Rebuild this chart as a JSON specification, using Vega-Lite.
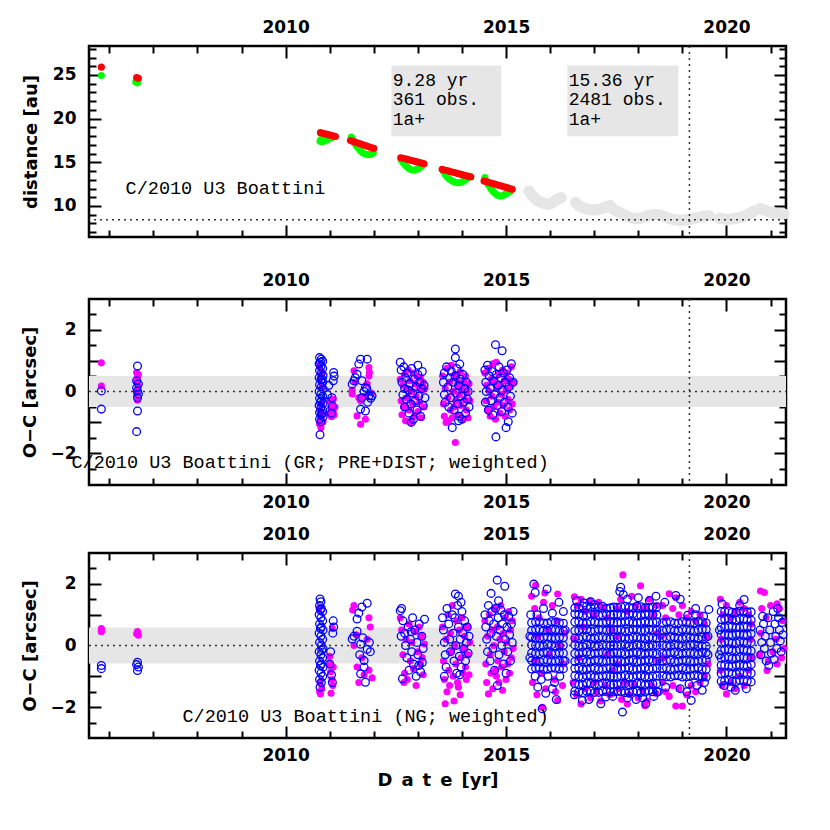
{
"$schema":"https://vega.github.io/schema/vega-lite/v6.json",
"background":"white",
"padding":{"left":20,"top":16,"right":5,"bottom":5},
"config":{
 "view":{"stroke":"black","strokeWidth":2.5},
 "axis":{"domain":false,"grid":false,"tickColor":"black","tickWidth":2,"labelFont":"DejaVu Sans","labelFontWeight":"bold","labelFontSize":17,"labelColor":"black","titleFont":"DejaVu Sans","titleFontWeight":"bold","titleFontSize":18,"titleColor":"black","zindex":1,"labelOverlap":false,"labelFlush":false}
},
"datasets":{
"red":[{"t":2005.82,"v":25.9},{"t":2006.62,"v":24.72},{"t":2006.66,"v":24.62},
{"t":2010.79,"v":18.4},{"t":2010.84,"v":18.33},{"t":2010.89,"v":18.27},{"t":2010.94,"v":18.2},{"t":2010.99,"v":18.14},{"t":2011.04,"v":18.07},{"t":2011.09,"v":18.0},{"t":2011.13,"v":17.95},
{"t":2011.47,"v":17.5},{"t":2011.52,"v":17.42},{"t":2011.57,"v":17.33},{"t":2011.62,"v":17.25},{"t":2011.67,"v":17.16},{"t":2011.72,"v":17.08},{"t":2011.77,"v":16.99},{"t":2011.82,"v":16.9},{"t":2011.87,"v":16.82},{"t":2011.92,"v":16.73},{"t":2011.97,"v":16.65},{"t":2012.0,"v":16.6},
{"t":2012.61,"v":15.53},{"t":2012.66,"v":15.47},{"t":2012.71,"v":15.4},{"t":2012.76,"v":15.34},{"t":2012.81,"v":15.27},{"t":2012.86,"v":15.21},{"t":2012.91,"v":15.14},{"t":2012.96,"v":15.08},{"t":2013.01,"v":15.01},{"t":2013.06,"v":14.95},{"t":2013.1,"v":14.89},{"t":2013.14,"v":14.84},
{"t":2013.55,"v":14.2},{"t":2013.6,"v":14.13},{"t":2013.65,"v":14.07},{"t":2013.7,"v":14.0},{"t":2013.75,"v":13.93},{"t":2013.8,"v":13.86},{"t":2013.85,"v":13.8},{"t":2013.9,"v":13.73},{"t":2013.95,"v":13.66},{"t":2014.0,"v":13.59},{"t":2014.05,"v":13.52},{"t":2014.1,"v":13.45},{"t":2014.15,"v":13.39},{"t":2014.2,"v":13.32},
{"t":2014.5,"v":12.86},{"t":2014.55,"v":12.79},{"t":2014.6,"v":12.72},{"t":2014.65,"v":12.64},{"t":2014.7,"v":12.57},{"t":2014.75,"v":12.5},{"t":2014.8,"v":12.42},{"t":2014.85,"v":12.35},{"t":2014.9,"v":12.28},{"t":2014.95,"v":12.2},{"t":2015.0,"v":12.13},{"t":2015.05,"v":12.06},{"t":2015.1,"v":11.98},{"t":2015.14,"v":11.91}],
"green":[{"t":2005.82,"v":24.95},{"t":2006.6,"v":24.2},{"t":2006.64,"v":24.1},
{"t":2010.78,"v":17.4},{"t":2010.8,"v":17.6},{"t":2010.82,"v":17.35},{"t":2010.86,"v":17.4},{"t":2010.9,"v":17.5},{"t":2010.95,"v":17.6},{"t":2011.0,"v":17.75},{"t":2011.05,"v":17.85},{"t":2011.1,"v":17.95},
{"t":2011.49,"v":17.9},{"t":2011.52,"v":17.6},{"t":2011.56,"v":17.2},{"t":2011.6,"v":16.9},{"t":2011.65,"v":16.6},{"t":2011.7,"v":16.3},{"t":2011.75,"v":16.1},{"t":2011.8,"v":15.95},{"t":2011.85,"v":15.9},{"t":2011.9,"v":15.9},{"t":2011.95,"v":15.95},{"t":2011.99,"v":16.1},
{"t":2012.62,"v":15.3},{"t":2012.66,"v":15.0},{"t":2012.7,"v":14.75},{"t":2012.75,"v":14.5},{"t":2012.8,"v":14.3},{"t":2012.85,"v":14.15},{"t":2012.9,"v":14.1},{"t":2012.95,"v":14.15},{"t":2013.0,"v":14.25},{"t":2013.05,"v":14.45},{"t":2013.1,"v":14.65},
{"t":2013.58,"v":13.95},{"t":2013.62,"v":13.6},{"t":2013.67,"v":13.3},{"t":2013.72,"v":13.05},{"t":2013.78,"v":12.85},{"t":2013.84,"v":12.72},{"t":2013.9,"v":12.67},{"t":2013.96,"v":12.68},{"t":2014.02,"v":12.8},{"t":2014.08,"v":13.0},{"t":2014.14,"v":13.25},{"t":2014.18,"v":13.4},
{"t":2014.52,"v":13.25},{"t":2014.56,"v":12.8},{"t":2014.6,"v":12.4},{"t":2014.65,"v":12.0},{"t":2014.7,"v":11.7},{"t":2014.75,"v":11.45},{"t":2014.8,"v":11.25},{"t":2014.85,"v":11.15},{"t":2014.9,"v":11.15},{"t":2014.95,"v":11.25},{"t":2015.0,"v":11.4},{"t":2015.05,"v":11.55},{"t":2015.1,"v":11.7}],
"grey":[{"t":2015.52,"v":11.7},{"t":2015.57,"v":11.35},{"t":2015.62,"v":11.05},{"t":2015.67,"v":10.8},{"t":2015.72,"v":10.6},{"t":2015.78,"v":10.45},{"t":2015.84,"v":10.35},{"t":2015.9,"v":10.25},{"t":2015.96,"v":10.2},{"t":2016.02,"v":10.3},{"t":2016.08,"v":10.5},{"t":2016.14,"v":10.7},{"t":2016.2,"v":10.85},{"t":2016.25,"v":10.95},
{"t":2016.58,"v":10.4},{"t":2016.64,"v":10.1},{"t":2016.7,"v":9.9},{"t":2016.76,"v":9.78},{"t":2016.82,"v":9.68},{"t":2016.88,"v":9.6},{"t":2016.94,"v":9.57},{"t":2017.0,"v":9.55},{"t":2017.06,"v":9.57},{"t":2017.12,"v":9.62},{"t":2017.18,"v":9.72},{"t":2017.24,"v":9.82},{"t":2017.3,"v":9.95},{"t":2017.36,"v":10.05},
{"t":2017.44,"v":9.6},{"t":2017.5,"v":9.45},{"t":2017.56,"v":9.3},{"t":2017.62,"v":9.15},{"t":2017.68,"v":9.0},{"t":2017.74,"v":8.85},{"t":2017.8,"v":8.7},{"t":2017.86,"v":8.62},{"t":2017.92,"v":8.56},{"t":2017.98,"v":8.55},{"t":2018.04,"v":8.6},{"t":2018.1,"v":8.68},{"t":2018.16,"v":8.78},{"t":2018.22,"v":8.88},{"t":2018.28,"v":8.95},{"t":2018.34,"v":9.0},{"t":2018.4,"v":9.02},{"t":2018.46,"v":9.0},{"t":2018.52,"v":8.92},{"t":2018.58,"v":8.82},{"t":2018.64,"v":8.7},{"t":2018.7,"v":8.58},{"t":2018.76,"v":8.5},{"t":2018.82,"v":8.44},{"t":2018.88,"v":8.4},{"t":2018.94,"v":8.38},{"t":2019.0,"v":8.38},{"t":2019.06,"v":8.4},{"t":2019.12,"v":8.45},{"t":2019.18,"v":8.5},{"t":2019.24,"v":8.56},{"t":2019.3,"v":8.62},{"t":2019.36,"v":8.68},{"t":2019.42,"v":8.74},{"t":2019.48,"v":8.8},{"t":2019.54,"v":8.85},{"t":2019.6,"v":8.9},
{"t":2019.84,"v":8.6},{"t":2019.9,"v":8.55},{"t":2019.96,"v":8.5},{"t":2020.02,"v":8.5},{"t":2020.08,"v":8.5},{"t":2020.14,"v":8.53},{"t":2020.2,"v":8.57},{"t":2020.26,"v":8.62},{"t":2020.32,"v":8.7},{"t":2020.38,"v":8.8},{"t":2020.44,"v":8.92},{"t":2020.5,"v":9.05},{"t":2020.56,"v":9.2},{"t":2020.62,"v":9.4},
{"t":2020.76,"v":9.7},{"t":2020.82,"v":9.58},{"t":2020.88,"v":9.48},{"t":2020.94,"v":9.38},{"t":2021.0,"v":9.3},{"t":2021.06,"v":9.24},{"t":2021.12,"v":9.18},{"t":2021.18,"v":9.14},{"t":2021.24,"v":9.1},{"t":2021.3,"v":9.1}],
"box":[{"x0":2012.4,"x1":2014.89,"y0":18.0,"y1":26.1},{"x0":2016.39,"x1":2018.91,"y0":18.0,"y1":26.1}],
"boxtext":[{"t":2012.43,"v":24.35,"s":"9.28 yr"},{"t":2012.43,"v":22.1,"s":"361 obs."},{"t":2012.43,"v":19.85,"s":"1a+"},{"t":2016.42,"v":24.35,"s":"15.36 yr"},{"t":2016.42,"v":22.1,"s":"2481 obs."},{"t":2016.42,"v":19.85,"s":"1a+"}],
"ann1":[{"t":2006.37,"v":12.06,"s":"C/2010 U3 Boattini"}],
"ann2":[{"t":2015.97,"v":-2.3,"s":"C/2010 U3 Boattini (GR; PRE+DIST; weighted)"}],
"ann3":[{"t":2015.97,"v":-2.29,"s":"C/2010 U3 Boattini (NG; weighted)"}],
"hline1":[{"v":8.43}],
"vline":[{"t":2019.16}],
"zero":[{"x0":2005.54,"x1":2021.35,"v":0}],
"band2":[{"x0":2005.54,"x1":2021.35,"lo":-0.5,"hi":0.5}],
"band3":[{"x0":2005.54,"x1":2021.35,"lo":-0.58,"hi":0.58}],
"mm":[{"t":2005.82,"v":0.93},{"t":2005.82,"v":0.18},
{"t":2006.62,"v":0.62},{"t":2006.64,"v":0.48},{"t":2006.62,"v":0.32},{"t":2006.66,"v":0.18},{"t":2006.64,"v":0.05},{"t":2006.62,"v":-0.1},{"t":2006.64,"v":-0.28},{"t":2006.66,"v":0.55},
{"t":2010.77,"v":0.8},{"t":2010.79,"v":0.45},{"t":2010.77,"v":-0.6},{"t":2010.79,"v":-0.9},{"t":2010.77,"v":-1.05},{"t":2010.8,"v":-1.17},{"t":2010.82,"v":0.6},{"t":2010.84,"v":0.15},{"t":2010.81,"v":-0.4},{"t":2010.83,"v":-0.78},{"t":2010.85,"v":-0.98},{"t":2011.0,"v":-0.3},{"t":2011.02,"v":-0.52},{"t":2011.0,"v":-0.72},{"t":2011.06,"v":-0.4},{"t":2011.08,"v":-0.62},{"t":2011.04,"v":-0.82},{"t":2011.1,"v":-0.75},{"t":2011.12,"v":-0.5},{"t":2011.08,"v":-0.25},
{"t":2011.55,"v":0.67},{"t":2011.89,"v":0.78},{"t":2011.89,"v":0.5},{"t":2011.51,"v":-0.08},{"t":2011.51,"v":0.05},{"t":2011.66,"v":-0.2},{"t":2011.62,"v":-0.79},{"t":2011.81,"v":-0.9},{"t":2011.7,"v":-1.06},{"t":2011.85,"v":0.25},{"t":2011.7,"v":-0.3},{"t":2011.9,"v":0.62},{"t":2011.8,"v":-0.15},{"t":2011.58,"v":0.3},{"t":2011.95,"v":-0.05},
{"t":2012.6,"v":0.4},{"t":2012.62,"v":-0.3},{"t":2012.64,"v":-0.75},{"t":2012.66,"v":0.2},{"t":2012.68,"v":-0.5},{"t":2012.7,"v":0.55},{"t":2012.72,"v":-0.95},{"t":2012.74,"v":0.1},{"t":2012.76,"v":-0.2},{"t":2012.78,"v":0.7},{"t":2012.8,"v":-0.6},{"t":2012.82,"v":0.35},{"t":2012.84,"v":-1.0},{"t":2012.86,"v":0.0},{"t":2012.88,"v":-0.4},{"t":2012.9,"v":0.6},{"t":2012.92,"v":-0.8},{"t":2012.94,"v":0.25},{"t":2012.96,"v":-0.15},{"t":2012.98,"v":0.5},{"t":2013.0,"v":-0.65},{"t":2013.02,"v":0.15},{"t":2013.04,"v":-0.35},{"t":2013.06,"v":0.45},{"t":2013.08,"v":-0.85},{"t":2013.1,"v":0.05},{"t":2013.12,"v":0.3},{"t":2013.14,"v":-0.5},{"t":2013.16,"v":0.1},
{"t":2013.56,"v":0.5},{"t":2013.58,"v":-0.4},{"t":2013.6,"v":-0.8},{"t":2013.62,"v":0.1},{"t":2013.64,"v":-1.0},{"t":2013.66,"v":0.75},{"t":2013.68,"v":-0.2},{"t":2013.7,"v":-0.95},{"t":2013.72,"v":0.3},{"t":2013.74,"v":-0.6},{"t":2013.76,"v":0.85},{"t":2013.78,"v":-0.85},{"t":2013.8,"v":0.0},{"t":2013.82,"v":-0.5},{"t":2013.84,"v":0.55},{"t":2013.85,"v":-1.65},{"t":2013.86,"v":-0.3},{"t":2013.88,"v":0.4},{"t":2013.9,"v":-0.75},{"t":2013.92,"v":0.2},{"t":2013.94,"v":-0.1},{"t":2013.96,"v":0.65},{"t":2013.98,"v":-0.45},{"t":2014.0,"v":0.1},{"t":2014.02,"v":-0.9},{"t":2014.04,"v":0.35},{"t":2014.06,"v":-0.25},{"t":2014.08,"v":0.5},{"t":2014.1,"v":-0.6},{"t":2014.12,"v":0.0},{"t":2014.14,"v":-0.85},{"t":2014.16,"v":0.25},{"t":2014.18,"v":-0.3},
{"t":2014.52,"v":0.6},{"t":2014.54,"v":-0.3},{"t":2014.56,"v":0.2},{"t":2014.58,"v":-0.6},{"t":2014.6,"v":0.75},{"t":2014.62,"v":0.0},{"t":2014.64,"v":-0.8},{"t":2014.66,"v":0.4},{"t":2014.68,"v":-0.15},{"t":2014.7,"v":0.9},{"t":2014.72,"v":-0.5},{"t":2014.74,"v":0.3},{"t":2014.76,"v":-0.9},{"t":2014.78,"v":0.95},{"t":2014.8,"v":0.1},{"t":2014.82,"v":-0.35},{"t":2014.84,"v":0.55},{"t":2014.86,"v":-0.7},{"t":2014.88,"v":0.2},{"t":2014.9,"v":-0.1},{"t":2014.92,"v":0.7},{"t":2014.94,"v":-0.45},{"t":2014.96,"v":0.35},{"t":2014.98,"v":-0.8},{"t":2015.0,"v":0.05},{"t":2015.02,"v":0.6},{"t":2015.04,"v":-0.25},{"t":2015.06,"v":0.4},{"t":2015.08,"v":-0.6},{"t":2015.1,"v":0.15},{"t":2015.12,"v":0.8},{"t":2015.14,"v":-0.4},{"t":2015.16,"v":0.3}],
"mb":[{"t":2005.82,"v":0.02},{"t":2005.82,"v":-0.57},
{"t":2006.64,"v":0.83},{"t":2006.62,"v":0.35},{"t":2006.66,"v":0.25},{"t":2006.62,"v":0.12},{"t":2006.64,"v":0.02},{"t":2006.66,"v":-0.08},{"t":2006.64,"v":-0.2},{"t":2006.64,"v":-0.63},{"t":2006.62,"v":-1.3},
{"t":2010.77,"v":1.1},{"t":2010.81,"v":1.05},{"t":2010.84,"v":0.98},{"t":2010.76,"v":0.9},{"t":2010.8,"v":0.82},{"t":2010.84,"v":0.75},{"t":2010.77,"v":0.68},{"t":2010.81,"v":0.6},{"t":2010.85,"v":0.52},{"t":2010.76,"v":0.45},{"t":2010.8,"v":0.38},{"t":2010.84,"v":0.3},{"t":2010.77,"v":0.22},{"t":2010.81,"v":0.15},{"t":2010.85,"v":0.08},{"t":2010.76,"v":0.0},{"t":2010.8,"v":-0.08},{"t":2010.84,"v":-0.15},{"t":2010.77,"v":-0.22},{"t":2010.81,"v":-0.3},{"t":2010.85,"v":-0.38},{"t":2010.76,"v":-0.45},{"t":2010.8,"v":-0.52},{"t":2010.84,"v":-0.6},{"t":2010.77,"v":-0.68},{"t":2010.81,"v":-0.75},{"t":2010.85,"v":-0.82},{"t":2010.77,"v":-0.9},{"t":2010.8,"v":-0.98},{"t":2010.78,"v":-1.4},{"t":2010.79,"v":0.95},{"t":2010.83,"v":0.4},{"t":2010.79,"v":-0.35},{"t":2010.83,"v":-0.7},
{"t":2011.09,"v":0.62},{"t":2011.1,"v":0.5},{"t":2011.08,"v":0.35},{"t":2011.05,"v":-0.2},{"t":2011.06,"v":-0.48},{"t":2011.04,"v":-0.7},{"t":2010.98,"v":0.2},{"t":2010.95,"v":-0.1},
{"t":2011.66,"v":0.89},{"t":2011.85,"v":1.05},{"t":2011.7,"v":1.05},{"t":2011.51,"v":0.24},{"t":2011.55,"v":0.35},{"t":2011.73,"v":0.35},{"t":2011.81,"v":0.13},{"t":2011.89,"v":-0.14},{"t":2011.96,"v":-0.14},{"t":2011.7,"v":-0.57},{"t":2011.81,"v":-0.63},{"t":2011.73,"v":-0.2},{"t":2011.62,"v":0.56},{"t":2011.58,"v":0.45},{"t":2011.93,"v":-0.22},{"t":2011.78,"v":0.0},{"t":2011.86,"v":-0.35},{"t":2011.84,"v":0.1},
{"t":2012.6,"v":0.95},{"t":2012.62,"v":0.7},{"t":2012.64,"v":0.3},{"t":2012.66,"v":-0.1},{"t":2012.68,"v":0.8},{"t":2012.7,"v":-0.5},{"t":2012.72,"v":0.45},{"t":2012.74,"v":-0.25},{"t":2012.76,"v":0.6},{"t":2012.78,"v":0.05},{"t":2012.8,"v":-0.7},{"t":2012.82,"v":0.25},{"t":2012.84,"v":-0.4},{"t":2012.86,"v":0.75},{"t":2012.88,"v":-0.05},{"t":2012.9,"v":-0.9},{"t":2012.92,"v":0.4},{"t":2012.94,"v":-0.3},{"t":2012.96,"v":0.15},{"t":2012.98,"v":-0.6},{"t":2013.0,"v":0.55},{"t":2013.02,"v":-0.15},{"t":2013.04,"v":0.3},{"t":2013.06,"v":-0.8},{"t":2013.08,"v":0.1},{"t":2013.1,"v":0.65},{"t":2013.12,"v":-0.45},{"t":2013.14,"v":0.2},{"t":2013.16,"v":-0.2},{"t":2012.85,"v":-1.0},{"t":2012.7,"v":0.1},{"t":2013.0,"v":0.85},
{"t":2013.85,"v":1.38},{"t":2013.85,"v":1.1},{"t":2013.95,"v":0.89},{"t":2013.6,"v":0.6},{"t":2013.58,"v":0.3},{"t":2013.6,"v":-0.1},{"t":2013.62,"v":-0.35},{"t":2013.65,"v":0.8},{"t":2013.68,"v":0.15},{"t":2013.7,"v":-0.5},{"t":2013.72,"v":0.45},{"t":2013.74,"v":-0.2},{"t":2013.76,"v":0.65},{"t":2013.78,"v":-1.17},{"t":2013.8,"v":0.3},{"t":2013.82,"v":-0.6},{"t":2013.84,"v":0.5},{"t":2013.86,"v":-0.05},{"t":2013.88,"v":0.75},{"t":2013.9,"v":-0.4},{"t":2013.92,"v":0.2},{"t":2013.94,"v":-0.8},{"t":2013.96,"v":0.4},{"t":2013.98,"v":-0.15},{"t":2014.0,"v":-0.9},{"t":2014.02,"v":0.55},{"t":2014.04,"v":-0.35},{"t":2014.06,"v":0.1},{"t":2014.08,"v":-0.7},{"t":2014.1,"v":0.3},{"t":2014.12,"v":-0.25},{"t":2014.14,"v":0.0},{"t":2014.16,"v":-0.5},{"t":2013.92,"v":-0.95},
{"t":2014.76,"v":1.52},{"t":2014.91,"v":1.32},{"t":2014.52,"v":0.7},{"t":2014.54,"v":0.3},{"t":2014.55,"v":0.0},{"t":2014.53,"v":-0.35},{"t":2014.58,"v":0.85},{"t":2014.6,"v":-0.6},{"t":2014.62,"v":0.5},{"t":2014.64,"v":0.1},{"t":2014.66,"v":-0.3},{"t":2014.68,"v":0.65},{"t":2014.7,"v":-0.75},{"t":2014.72,"v":0.35},{"t":2014.74,"v":-0.1},{"t":2014.77,"v":-1.47},{"t":2014.78,"v":0.55},{"t":2014.8,"v":-0.45},{"t":2014.82,"v":0.2},{"t":2014.84,"v":0.8},{"t":2014.86,"v":-0.2},{"t":2014.88,"v":0.45},{"t":2014.9,"v":-0.65},{"t":2014.92,"v":0.05},{"t":2014.94,"v":0.6},{"t":2014.96,"v":-0.35},{"t":2014.98,"v":0.3},{"t":2015.0,"v":-1.17},{"t":2015.02,"v":0.7},{"t":2015.04,"v":-0.5},{"t":2015.05,"v":-0.98},{"t":2015.06,"v":0.15},{"t":2015.08,"v":0.45},{"t":2015.1,"v":-0.15},{"t":2015.12,"v":0.9},{"t":2015.14,"v":-0.7},{"t":2015.16,"v":0.3}],
"bm":[{"t":2005.82,"v":0.55},{"t":2005.82,"v":0.49},{"t":2005.82,"v":0.45},{"t":2006.64,"v":0.45},{"t":2006.62,"v":0.38},{"t":2006.66,"v":0.33},
{"t":2010.77,"v":-1.5},{"t":2010.79,"v":-1.57},{"t":2010.82,"v":-1.4},{"t":2010.76,"v":1.2},{"t":2010.78,"v":-1.2},{"t":2011.0,"v":-0.6},{"t":2011.02,"v":-0.85},{"t":2011.05,"v":-1.1},{"t":2011.07,"v":-1.3},{"t":2011.03,"v":-1.55},{"t":2011.08,"v":-0.7},{"t":2011.0,"v":-0.35},{"t":2011.06,"v":0.55},
{"t":2011.55,"v":1.3},{"t":2011.89,"v":0.9},{"t":2011.55,"v":0.0},{"t":2011.85,"v":0.2},{"t":2011.73,"v":-0.4},{"t":2011.62,"v":-0.7},{"t":2011.89,"v":-0.8},{"t":2011.96,"v":-1.05},{"t":2011.66,"v":-1.2},{"t":2011.52,"v":1.15},{"t":2011.92,"v":0.6},{"t":2011.78,"v":-0.95},{"t":2011.6,"v":0.35},
{"t":2012.6,"v":0.9},{"t":2012.63,"v":0.5},{"t":2012.66,"v":-0.3},{"t":2012.7,"v":-0.9},{"t":2012.73,"v":0.2},{"t":2012.76,"v":-1.1},{"t":2012.8,"v":0.7},{"t":2012.83,"v":-0.5},{"t":2012.86,"v":0.1},{"t":2012.9,"v":-0.75},{"t":2012.93,"v":0.45},{"t":2012.96,"v":-1.3},{"t":2013.0,"v":-0.2},{"t":2013.03,"v":0.6},{"t":2013.06,"v":-0.6},{"t":2013.09,"v":0.3},{"t":2013.12,"v":-0.95},{"t":2013.15,"v":0.05},{"t":2012.68,"v":-1.2},{"t":2013.1,"v":-0.4},
{"t":2013.56,"v":0.6},{"t":2013.58,"v":-0.5},{"t":2013.6,"v":-1.1},{"t":2013.62,"v":-1.89},{"t":2013.64,"v":0.2},{"t":2013.66,"v":-1.5},{"t":2013.68,"v":1.0},{"t":2013.7,"v":-0.8},{"t":2013.72,"v":-1.3},{"t":2013.74,"v":0.4},{"t":2013.76,"v":-0.2},{"t":2013.78,"v":1.3},{"t":2013.8,"v":-1.0},{"t":2013.82,"v":-1.8},{"t":2013.84,"v":0.0},{"t":2013.86,"v":-0.6},{"t":2013.88,"v":0.8},{"t":2013.9,"v":-1.2},{"t":2013.92,"v":-1.35},{"t":2013.94,"v":0.5},{"t":2013.96,"v":-1.6},{"t":2013.98,"v":-0.4},{"t":2014.0,"v":0.9},{"t":2014.02,"v":-0.9},{"t":2014.04,"v":-0.1},{"t":2014.06,"v":0.3},{"t":2014.08,"v":-0.7},{"t":2014.1,"v":-1.1},{"t":2014.12,"v":0.6},{"t":2014.14,"v":-0.3},{"t":2014.16,"v":-0.95},{"t":2014.18,"v":0.1},
{"t":2014.52,"v":0.8},{"t":2014.54,"v":-0.6},{"t":2014.56,"v":-1.2},{"t":2014.58,"v":0.3},{"t":2014.6,"v":-1.57},{"t":2014.62,"v":1.0},{"t":2014.64,"v":-0.3},{"t":2014.66,"v":-0.9},{"t":2014.68,"v":0.5},{"t":2014.7,"v":-1.4},{"t":2014.72,"v":0.0},{"t":2014.74,"v":1.2},{"t":2014.76,"v":-0.8},{"t":2014.78,"v":-1.0},{"t":2014.8,"v":0.6},{"t":2014.82,"v":-0.5},{"t":2014.84,"v":-1.2},{"t":2014.86,"v":0.2},{"t":2014.88,"v":1.3},{"t":2014.9,"v":-0.7},{"t":2014.92,"v":-1.45},{"t":2014.94,"v":0.4},{"t":2014.96,"v":-0.2},{"t":2014.98,"v":0.9},{"t":2015.0,"v":-1.1},{"t":2015.02,"v":0.1},{"t":2015.04,"v":-0.6},{"t":2015.06,"v":1.1},{"t":2015.08,"v":-0.9},{"t":2015.1,"v":0.5},{"t":2015.12,"v":-0.4},{"t":2015.14,"v":0.8},{"t":2015.16,"v":-0.1},
{"t":2015.58,"v":1.6},{"t":2015.67,"v":1.95},{"t":2015.6,"v":-1.2},{"t":2015.65,"v":1.2},{"t":2015.7,"v":-1.6},{"t":2015.75,"v":0.9},{"t":2015.8,"v":-0.9},{"t":2015.85,"v":1.4},{"t":2015.9,"v":-1.4},{"t":2015.95,"v":0.5},{"t":2015.82,"v":-2.0},{"t":2016.05,"v":1.3},{"t":2016.1,"v":-1.1},{"t":2016.15,"v":0.8},{"t":2016.17,"v":-1.78},{"t":2016.17,"v":1.67},{"t":2016.3,"v":-0.6},{"t":2016.33,"v":0.4},{"t":2015.72,"v":0.3},{"t":2015.98,"v":-0.3},{"t":2016.22,"v":0.0},{"t":2015.66,"v":-0.5},{"t":2016.12,"v":-1.5},{"t":2015.88,"v":1.7},{"t":2016.28,"v":-1.3},
{"t":2016.55,"v":1.58},{"t":2016.62,"v":1.3},{"t":2016.7,"v":1.5},{"t":2016.8,"v":1.1},{"t":2016.9,"v":1.45},{"t":2017.0,"v":1.0},{"t":2017.1,"v":1.4},{"t":2017.2,"v":1.25},{"t":2017.3,"v":0.9},{"t":2016.52,"v":-1.2},{"t":2016.6,"v":-1.6},{"t":2016.7,"v":-1.9},{"t":2016.8,"v":-1.4},{"t":2016.92,"v":-1.7},{"t":2017.05,"v":-1.5},{"t":2017.15,"v":-1.8},{"t":2017.25,"v":-1.3},{"t":2017.35,"v":-1.6},{"t":2017.42,"v":-0.8},{"t":2016.55,"v":0.2},{"t":2017.4,"v":0.5},{"t":2016.65,"v":-0.4},{"t":2017.3,"v":-0.3},{"t":2017.0,"v":-1.2},{"t":2016.75,"v":0.6},
{"t":2017.52,"v":1.2},{"t":2017.6,"v":1.5},{"t":2017.65,"v":2.29},{"t":2017.75,"v":1.1},{"t":2017.85,"v":1.6},{"t":2017.95,"v":1.3},{"t":2018.05,"v":1.94},{"t":2018.15,"v":1.2},{"t":2018.25,"v":1.5},{"t":2018.35,"v":1.0},{"t":2018.42,"v":1.3},{"t":2017.55,"v":-1.4},{"t":2017.62,"v":-1.75},{"t":2017.7,"v":-1.2},{"t":2017.8,"v":-1.6},{"t":2017.9,"v":-1.3},{"t":2018.0,"v":-1.7},{"t":2018.1,"v":-1.45},{"t":2018.2,"v":-1.8},{"t":2018.3,"v":-1.3},{"t":2018.4,"v":-1.55},{"t":2017.52,"v":0.3},{"t":2018.44,"v":-0.5},{"t":2017.53,"v":-0.6},{"t":2018.43,"v":0.4},{"t":2017.75,"v":-1.9},{"t":2018.15,"v":-1.95},
{"t":2018.55,"v":1.3},{"t":2018.62,"v":0.9},{"t":2018.7,"v":1.68},{"t":2018.78,"v":1.2},{"t":2018.85,"v":1.55},{"t":2018.92,"v":1.0},{"t":2019.0,"v":1.3},{"t":2019.1,"v":0.9},{"t":2019.2,"v":1.1},{"t":2019.3,"v":0.8},{"t":2019.4,"v":1.0},{"t":2019.5,"v":0.7},{"t":2018.55,"v":-1.2},{"t":2018.62,"v":-1.5},{"t":2018.7,"v":-1.65},{"t":2018.78,"v":-1.3},{"t":2018.85,"v":-1.96},{"t":2018.92,"v":-1.4},{"t":2019.0,"v":-1.96},{"t":2019.1,"v":-1.6},{"t":2019.2,"v":-1.3},{"t":2019.3,"v":-1.5},{"t":2019.4,"v":-1.2},{"t":2019.5,"v":-1.0},{"t":2019.58,"v":-0.6},{"t":2018.52,"v":0.3},{"t":2018.58,"v":-0.4},{"t":2019.55,"v":0.3},
{"t":2019.86,"v":1.5},{"t":2019.92,"v":1.0},{"t":2020.0,"v":1.3},{"t":2020.1,"v":0.9},{"t":2020.2,"v":1.1},{"t":2020.3,"v":1.4},{"t":2020.4,"v":1.2},{"t":2020.5,"v":1.0},{"t":2020.56,"v":0.7},{"t":2019.86,"v":-0.8},{"t":2019.9,"v":-1.3},{"t":2020.0,"v":-1.57},{"t":2020.1,"v":-1.2},{"t":2020.2,"v":-1.4},{"t":2020.3,"v":-1.0},{"t":2020.4,"v":-1.3},{"t":2020.5,"v":-0.8},{"t":2020.56,"v":-0.4},{"t":2019.88,"v":0.2},{"t":2020.55,"v":0.2},
{"t":2020.77,"v":1.77},{"t":2020.86,"v":1.72},{"t":2020.8,"v":1.2},{"t":2020.9,"v":0.9},{"t":2021.0,"v":1.3},{"t":2021.15,"v":1.35},{"t":2021.2,"v":1.2},{"t":2021.28,"v":0.8},{"t":2020.75,"v":-0.3},{"t":2020.92,"v":-0.81},{"t":2020.95,"v":-0.5},{"t":2021.05,"v":-0.2},{"t":2021.15,"v":-0.6},{"t":2021.25,"v":-0.4},{"t":2021.3,"v":-0.1},{"t":2020.78,"v":0.4},{"t":2021.12,"v":0.2}],
"bb":[{"t":2005.82,"v":-0.65},{"t":2005.82,"v":-0.75},{"t":2006.64,"v":-0.54},{"t":2006.62,"v":-0.62},{"t":2006.66,"v":-0.7},{"t":2006.64,"v":-0.81},
{"t":2010.78,"v":1.51},{"t":2010.8,"v":1.42},{"t":2010.77,"v":1.3},{"t":2010.81,"v":1.2},{"t":2010.84,"v":1.1},{"t":2010.76,"v":1.0},{"t":2010.8,"v":0.9},{"t":2010.84,"v":0.8},{"t":2010.77,"v":0.7},{"t":2010.81,"v":0.6},{"t":2010.85,"v":0.5},{"t":2010.76,"v":0.4},{"t":2010.8,"v":0.3},{"t":2010.84,"v":0.2},{"t":2010.77,"v":0.1},{"t":2010.81,"v":0.0},{"t":2010.85,"v":-0.1},{"t":2010.76,"v":-0.2},{"t":2010.8,"v":-0.3},{"t":2010.84,"v":-0.4},{"t":2010.77,"v":-0.5},{"t":2010.81,"v":-0.6},{"t":2010.85,"v":-0.7},{"t":2010.76,"v":-0.8},{"t":2010.8,"v":-0.9},{"t":2010.84,"v":-1.0},{"t":2010.77,"v":-1.1},{"t":2010.81,"v":-1.2},{"t":2010.78,"v":-1.35},{"t":2010.79,"v":0.55},{"t":2010.82,"v":-0.15},{"t":2010.79,"v":-0.65},{"t":2010.79,"v":1.15},
{"t":2011.08,"v":0.8},{"t":2011.09,"v":0.6},{"t":2011.07,"v":0.4},{"t":2011.02,"v":-0.2},{"t":2011.04,"v":-0.95},{"t":2011.06,"v":-1.2},{"t":2011.0,"v":-0.6},
{"t":2011.85,"v":1.37},{"t":2011.73,"v":1.25},{"t":2011.62,"v":0.86},{"t":2011.51,"v":0.21},{"t":2011.62,"v":0.46},{"t":2011.7,"v":0.04},{"t":2011.85,"v":-0.12},{"t":2011.92,"v":-0.2},{"t":2011.78,"v":-0.49},{"t":2011.78,"v":-0.7},{"t":2011.7,"v":-0.92},{"t":2011.81,"v":-1.19},{"t":2011.55,"v":0.3},{"t":2011.66,"v":1.05},{"t":2011.9,"v":0.1},{"t":2011.75,"v":0.25},{"t":2011.68,"v":-0.3},
{"t":2012.6,"v":1.13},{"t":2012.63,"v":1.2},{"t":2012.66,"v":0.8},{"t":2012.7,"v":0.4},{"t":2012.72,"v":0.0},{"t":2012.75,"v":-0.4},{"t":2012.78,"v":0.6},{"t":2012.8,"v":-0.8},{"t":2012.83,"v":0.2},{"t":2012.86,"v":-0.2},{"t":2012.88,"v":0.9},{"t":2012.9,"v":-0.6},{"t":2012.93,"v":0.5},{"t":2012.96,"v":-1.0},{"t":2012.98,"v":0.1},{"t":2013.0,"v":-0.3},{"t":2013.03,"v":0.7},{"t":2013.06,"v":-0.85},{"t":2013.09,"v":0.3},{"t":2013.12,"v":-0.1},{"t":2013.15,"v":0.85},{"t":2012.65,"v":-1.08},{"t":2012.62,"v":0.3},{"t":2013.1,"v":-0.55},{"t":2012.85,"v":0.45},{"t":2013.02,"v":-0.65},
{"t":2013.85,"v":1.67},{"t":2013.92,"v":1.6},{"t":2013.98,"v":1.4},{"t":2013.56,"v":0.9},{"t":2013.58,"v":0.5},{"t":2013.6,"v":0.1},{"t":2013.62,"v":-0.3},{"t":2013.64,"v":-0.7},{"t":2013.66,"v":1.2},{"t":2013.7,"v":0.7},{"t":2013.72,"v":0.2},{"t":2013.74,"v":-0.2},{"t":2013.78,"v":1.0},{"t":2013.8,"v":0.4},{"t":2013.82,"v":-0.5},{"t":2013.84,"v":0.9},{"t":2013.86,"v":0.0},{"t":2013.88,"v":-0.9},{"t":2013.9,"v":1.3},{"t":2013.92,"v":0.6},{"t":2013.94,"v":-0.35},{"t":2013.96,"v":0.2},{"t":2013.98,"v":-0.7},{"t":2014.0,"v":1.1},{"t":2014.02,"v":0.4},{"t":2014.04,"v":-0.1},{"t":2014.06,"v":0.8},{"t":2014.08,"v":-0.5},{"t":2014.1,"v":0.1},{"t":2014.12,"v":0.6},{"t":2014.14,"v":-0.25},{"t":2014.16,"v":0.3},{"t":2013.6,"v":-1.0},{"t":2013.95,"v":-0.95},
{"t":2014.8,"v":2.12},{"t":2014.97,"v":1.92},{"t":2014.66,"v":1.69},{"t":2014.83,"v":1.45},{"t":2014.52,"v":1.0},{"t":2014.54,"v":0.6},{"t":2014.56,"v":0.2},{"t":2014.58,"v":-0.2},{"t":2014.6,"v":1.3},{"t":2014.62,"v":0.8},{"t":2014.64,"v":-0.5},{"t":2014.66,"v":0.4},{"t":2014.68,"v":1.1},{"t":2014.7,"v":-0.1},{"t":2014.72,"v":0.7},{"t":2014.74,"v":-0.8},{"t":2014.76,"v":1.2},{"t":2014.78,"v":0.3},{"t":2014.8,"v":-1.3},{"t":2014.82,"v":0.9},{"t":2014.84,"v":-0.3},{"t":2014.86,"v":0.5},{"t":2014.88,"v":1.15},{"t":2014.9,"v":0.0},{"t":2014.92,"v":0.7},{"t":2014.94,"v":-0.6},{"t":2014.96,"v":1.0},{"t":2014.98,"v":0.2},{"t":2015.0,"v":-0.9},{"t":2015.02,"v":0.6},{"t":2015.04,"v":-0.2},{"t":2015.06,"v":0.95},{"t":2015.08,"v":0.35},{"t":2015.1,"v":-0.5},{"t":2015.12,"v":0.7},{"t":2015.14,"v":0.1},{"t":2015.16,"v":1.1},
{"t":2015.58,"v":0.74},{"t":2015.76,"v":0.77},{"t":2015.94,"v":0.73},{"t":2016.12,"v":0.76},{"t":2016.3,"v":0.72},
{"t":2015.67,"v":0.52},{"t":2015.85,"v":0.48},{"t":2016.03,"v":0.51},{"t":2016.21,"v":0.49},
{"t":2015.58,"v":0.26},{"t":2015.76,"v":0.24},{"t":2015.94,"v":0.27},{"t":2016.12,"v":0.23},{"t":2016.3,"v":0.25},
{"t":2015.67,"v":0.01},{"t":2015.85,"v":-0.02},{"t":2016.03,"v":0.02},{"t":2016.21,"v":-0.01},
{"t":2015.58,"v":-0.24},{"t":2015.76,"v":-0.27},{"t":2015.94,"v":-0.23},{"t":2016.12,"v":-0.26},{"t":2016.3,"v":-0.25},
{"t":2015.67,"v":-0.51},{"t":2015.85,"v":-0.48},{"t":2016.03,"v":-0.52},{"t":2016.21,"v":-0.49},
{"t":2015.58,"v":-0.76},{"t":2015.76,"v":-0.73},{"t":2015.94,"v":-0.77},{"t":2016.12,"v":-0.74},{"t":2016.3,"v":-0.75},
{"t":2015.58,"v":0.49},{"t":2015.76,"v":0.52},{"t":2015.94,"v":0.48},{"t":2016.12,"v":0.51},{"t":2016.3,"v":0.47},
{"t":2015.58,"v":0.02},{"t":2015.76,"v":-0.01},{"t":2015.94,"v":0.03},{"t":2016.12,"v":-0.02},{"t":2016.3,"v":0.01},
{"t":2015.58,"v":-0.49},{"t":2015.76,"v":-0.52},{"t":2015.94,"v":-0.48},{"t":2016.12,"v":-0.51},{"t":2016.3,"v":-0.5},
{"t":2015.67,"v":0.76},{"t":2015.85,"v":0.73},{"t":2016.03,"v":0.77},{"t":2016.21,"v":0.74},
{"t":2015.67,"v":0.24},{"t":2015.85,"v":0.27},{"t":2016.03,"v":0.23},{"t":2016.21,"v":0.26},
{"t":2015.67,"v":-0.26},{"t":2015.85,"v":-0.23},{"t":2016.03,"v":-0.27},{"t":2016.21,"v":-0.24},
{"t":2015.67,"v":-0.74},{"t":2015.85,"v":-0.77},{"t":2016.03,"v":-0.73},{"t":2016.21,"v":-0.76},
{"t":2015.63,"v":1.99},{"t":2015.66,"v":1.72},{"t":2015.93,"v":1.83},{"t":2015.85,"v":1.2},{"t":2016.2,"v":1.4},{"t":2016.3,"v":1.1},{"t":2015.56,"v":1.0},{"t":2016.05,"v":1.05},{"t":2015.7,"v":1.0},{"t":2015.66,"v":-1.0},{"t":2015.8,"v":-1.1},{"t":2015.95,"v":-1.0},{"t":2016.1,"v":-1.2},{"t":2016.22,"v":-1.0},{"t":2015.72,"v":-1.35},{"t":2015.9,"v":-1.55},{"t":2016.05,"v":-1.4},{"t":2015.82,"v":-2.05},{"t":2016.14,"v":-1.75},{"t":2016.34,"v":0.5},{"t":2016.34,"v":-0.5},{"t":2015.54,"v":0.3},{"t":2015.54,"v":-0.4},
{"t":2016.56,"v":1.22},{"t":2016.74,"v":1.27},{"t":2016.92,"v":1.24},{"t":2017.1,"v":1.26},{"t":2017.28,"v":1.21},{"t":2017.44,"v":1.25},
{"t":2016.65,"v":1.01},{"t":2016.83,"v":0.98},{"t":2017.01,"v":1.02},{"t":2017.19,"v":0.99},{"t":2017.37,"v":1.0},
{"t":2016.56,"v":0.76},{"t":2016.74,"v":0.73},{"t":2016.92,"v":0.77},{"t":2017.1,"v":0.74},{"t":2017.28,"v":0.76},{"t":2017.44,"v":0.73},
{"t":2016.65,"v":0.49},{"t":2016.83,"v":0.52},{"t":2017.01,"v":0.48},{"t":2017.19,"v":0.51},{"t":2017.37,"v":0.5},
{"t":2016.56,"v":0.24},{"t":2016.74,"v":0.27},{"t":2016.92,"v":0.23},{"t":2017.1,"v":0.26},{"t":2017.28,"v":0.24},{"t":2017.44,"v":0.27},
{"t":2016.65,"v":-0.01},{"t":2016.83,"v":0.02},{"t":2017.01,"v":-0.02},{"t":2017.19,"v":0.01},{"t":2017.37,"v":0.0},
{"t":2016.56,"v":-0.26},{"t":2016.74,"v":-0.23},{"t":2016.92,"v":-0.27},{"t":2017.1,"v":-0.24},{"t":2017.28,"v":-0.26},{"t":2017.44,"v":-0.23},
{"t":2016.65,"v":-0.49},{"t":2016.83,"v":-0.52},{"t":2017.01,"v":-0.48},{"t":2017.19,"v":-0.51},{"t":2017.37,"v":-0.5},
{"t":2016.56,"v":-0.74},{"t":2016.74,"v":-0.77},{"t":2016.92,"v":-0.73},{"t":2017.1,"v":-0.76},{"t":2017.28,"v":-0.74},{"t":2017.44,"v":-0.77},
{"t":2016.65,"v":-1.01},{"t":2016.83,"v":-0.98},{"t":2017.01,"v":-1.02},{"t":2017.19,"v":-0.99},{"t":2017.37,"v":-1.0},
{"t":2016.56,"v":-1.24},{"t":2016.74,"v":-1.27},{"t":2016.92,"v":-1.23},{"t":2017.1,"v":-1.26},{"t":2017.28,"v":-1.24},{"t":2017.44,"v":-1.27},
{"t":2016.65,"v":-1.51},{"t":2016.83,"v":-1.48},{"t":2017.01,"v":-1.52},{"t":2017.19,"v":-1.49},{"t":2017.37,"v":-1.5},
{"t":2016.56,"v":1.03},{"t":2016.74,"v":0.97},{"t":2016.92,"v":1.02},{"t":2017.1,"v":0.98},{"t":2017.28,"v":1.01},{"t":2017.44,"v":0.99},
{"t":2016.56,"v":0.48},{"t":2016.74,"v":0.53},{"t":2016.92,"v":0.47},{"t":2017.1,"v":0.52},{"t":2017.28,"v":0.49},{"t":2017.44,"v":0.51},
{"t":2016.56,"v":0.02},{"t":2016.74,"v":-0.03},{"t":2016.92,"v":0.03},{"t":2017.1,"v":-0.02},{"t":2017.28,"v":0.01},{"t":2017.44,"v":-0.01},
{"t":2016.56,"v":-0.52},{"t":2016.74,"v":-0.47},{"t":2016.92,"v":-0.53},{"t":2017.1,"v":-0.48},{"t":2017.28,"v":-0.51},{"t":2017.44,"v":-0.49},
{"t":2016.56,"v":-0.98},{"t":2016.74,"v":-1.03},{"t":2016.92,"v":-0.97},{"t":2017.1,"v":-1.02},{"t":2017.28,"v":-0.99},{"t":2017.44,"v":-1.01},
{"t":2016.56,"v":-1.48},{"t":2016.74,"v":-1.53},{"t":2016.92,"v":-1.47},{"t":2017.1,"v":-1.52},{"t":2017.28,"v":-1.49},{"t":2017.44,"v":-1.51},
{"t":2016.65,"v":1.23},{"t":2016.83,"v":1.28},{"t":2017.01,"v":1.24},{"t":2017.19,"v":1.27},{"t":2017.37,"v":1.22},
{"t":2016.65,"v":0.77},{"t":2016.83,"v":0.72},{"t":2017.01,"v":0.76},{"t":2017.19,"v":0.73},{"t":2017.37,"v":0.78},
{"t":2016.65,"v":0.23},{"t":2016.83,"v":0.28},{"t":2017.01,"v":0.24},{"t":2017.19,"v":0.27},{"t":2017.37,"v":0.22},
{"t":2016.65,"v":-0.27},{"t":2016.83,"v":-0.22},{"t":2017.01,"v":-0.26},{"t":2017.19,"v":-0.23},{"t":2017.37,"v":-0.28},
{"t":2016.65,"v":-0.73},{"t":2016.83,"v":-0.78},{"t":2017.01,"v":-0.74},{"t":2017.19,"v":-0.77},{"t":2017.37,"v":-0.72},
{"t":2016.65,"v":-1.27},{"t":2016.83,"v":-1.22},{"t":2017.01,"v":-1.26},{"t":2017.19,"v":-1.23},{"t":2017.37,"v":-1.28},
{"t":2016.77,"v":1.38},{"t":2016.92,"v":1.42},{"t":2017.0,"v":1.32},{"t":2016.6,"v":1.45},{"t":2016.73,"v":-1.78},{"t":2016.88,"v":-1.75},{"t":2017.15,"v":-1.89},{"t":2017.26,"v":-1.67},{"t":2016.55,"v":-1.6},{"t":2017.42,"v":-1.65},
{"t":2017.52,"v":1.24},{"t":2017.7,"v":1.27},{"t":2017.88,"v":1.22},{"t":2018.06,"v":1.26},{"t":2018.24,"v":1.23},{"t":2018.42,"v":1.25},
{"t":2017.61,"v":0.99},{"t":2017.79,"v":1.02},{"t":2017.97,"v":0.98},{"t":2018.15,"v":1.01},{"t":2018.33,"v":1.0},
{"t":2017.52,"v":0.74},{"t":2017.7,"v":0.77},{"t":2017.88,"v":0.73},{"t":2018.06,"v":0.76},{"t":2018.24,"v":0.74},{"t":2018.42,"v":0.77},
{"t":2017.61,"v":0.51},{"t":2017.79,"v":0.48},{"t":2017.97,"v":0.52},{"t":2018.15,"v":0.49},{"t":2018.33,"v":0.5},
{"t":2017.52,"v":0.26},{"t":2017.7,"v":0.23},{"t":2017.88,"v":0.27},{"t":2018.06,"v":0.24},{"t":2018.24,"v":0.26},{"t":2018.42,"v":0.23},
{"t":2017.61,"v":0.01},{"t":2017.79,"v":-0.02},{"t":2017.97,"v":0.02},{"t":2018.15,"v":-0.01},{"t":2018.33,"v":0.0},
{"t":2017.52,"v":-0.24},{"t":2017.7,"v":-0.27},{"t":2017.88,"v":-0.23},{"t":2018.06,"v":-0.26},{"t":2018.24,"v":-0.24},{"t":2018.42,"v":-0.27},
{"t":2017.61,"v":-0.51},{"t":2017.79,"v":-0.48},{"t":2017.97,"v":-0.52},{"t":2018.15,"v":-0.49},{"t":2018.33,"v":-0.5},
{"t":2017.52,"v":-0.76},{"t":2017.7,"v":-0.73},{"t":2017.88,"v":-0.77},{"t":2018.06,"v":-0.74},{"t":2018.24,"v":-0.76},{"t":2018.42,"v":-0.73},
{"t":2017.61,"v":-0.99},{"t":2017.79,"v":-1.02},{"t":2017.97,"v":-0.98},{"t":2018.15,"v":-1.01},{"t":2018.33,"v":-1.0},
{"t":2017.52,"v":-1.26},{"t":2017.7,"v":-1.23},{"t":2017.88,"v":-1.27},{"t":2018.06,"v":-1.24},{"t":2018.24,"v":-1.26},{"t":2018.42,"v":-1.23},
{"t":2017.61,"v":-1.49},{"t":2017.79,"v":-1.52},{"t":2017.97,"v":-1.48},{"t":2018.15,"v":-1.51},{"t":2018.33,"v":-1.5},
{"t":2017.52,"v":1.01},{"t":2017.7,"v":0.98},{"t":2017.88,"v":1.03},{"t":2018.06,"v":0.97},{"t":2018.24,"v":1.02},{"t":2018.42,"v":0.99},
{"t":2017.52,"v":0.51},{"t":2017.7,"v":0.47},{"t":2017.88,"v":0.52},{"t":2018.06,"v":0.48},{"t":2018.24,"v":0.53},{"t":2018.42,"v":0.49},
{"t":2017.52,"v":-0.01},{"t":2017.7,"v":0.03},{"t":2017.88,"v":-0.02},{"t":2018.06,"v":0.02},{"t":2018.24,"v":-0.03},{"t":2018.42,"v":0.01},
{"t":2017.52,"v":-0.49},{"t":2017.7,"v":-0.53},{"t":2017.88,"v":-0.48},{"t":2018.06,"v":-0.52},{"t":2018.24,"v":-0.47},{"t":2018.42,"v":-0.51},
{"t":2017.52,"v":-1.01},{"t":2017.7,"v":-0.97},{"t":2017.88,"v":-1.02},{"t":2018.06,"v":-0.98},{"t":2018.24,"v":-1.03},{"t":2018.42,"v":-0.99},
{"t":2017.52,"v":-1.49},{"t":2017.7,"v":-1.53},{"t":2017.88,"v":-1.48},{"t":2018.06,"v":-1.52},{"t":2018.24,"v":-1.47},{"t":2018.42,"v":-1.51},
{"t":2017.61,"v":1.26},{"t":2017.79,"v":1.23},{"t":2017.97,"v":1.27},{"t":2018.15,"v":1.22},{"t":2018.33,"v":1.25},
{"t":2017.61,"v":0.74},{"t":2017.79,"v":0.77},{"t":2017.97,"v":0.73},{"t":2018.15,"v":0.78},{"t":2018.33,"v":0.75},
{"t":2017.61,"v":0.26},{"t":2017.79,"v":0.23},{"t":2017.97,"v":0.27},{"t":2018.15,"v":0.22},{"t":2018.33,"v":0.25},
{"t":2017.61,"v":-0.24},{"t":2017.79,"v":-0.27},{"t":2017.97,"v":-0.23},{"t":2018.15,"v":-0.28},{"t":2018.33,"v":-0.25},
{"t":2017.61,"v":-0.76},{"t":2017.79,"v":-0.73},{"t":2017.97,"v":-0.77},{"t":2018.15,"v":-0.72},{"t":2018.33,"v":-0.75},
{"t":2017.61,"v":-1.24},{"t":2017.79,"v":-1.27},{"t":2017.97,"v":-1.23},{"t":2018.15,"v":-1.28},{"t":2018.33,"v":-1.25},
{"t":2017.6,"v":1.89},{"t":2017.58,"v":1.75},{"t":2017.75,"v":1.5},{"t":2017.66,"v":1.65},{"t":2018.0,"v":1.55},{"t":2018.25,"v":1.45},{"t":2018.4,"v":1.6},{"t":2017.64,"v":-2.16},{"t":2018.17,"v":-1.89},{"t":2017.75,"v":-1.7},{"t":2017.95,"v":-1.75},{"t":2018.1,"v":-1.7},{"t":2018.35,"v":-1.65},{"t":2018.45,"v":-1.5},
{"t":2018.55,"v":0.74},{"t":2018.73,"v":0.77},{"t":2018.91,"v":0.73},{"t":2019.09,"v":0.76},{"t":2019.27,"v":0.74},{"t":2019.45,"v":0.77},
{"t":2018.64,"v":0.51},{"t":2018.82,"v":0.48},{"t":2019.0,"v":0.52},{"t":2019.18,"v":0.49},{"t":2019.36,"v":0.5},{"t":2019.54,"v":0.52},
{"t":2018.55,"v":0.24},{"t":2018.73,"v":0.27},{"t":2018.91,"v":0.23},{"t":2019.09,"v":0.26},{"t":2019.27,"v":0.24},{"t":2019.45,"v":0.27},
{"t":2018.64,"v":-0.01},{"t":2018.82,"v":0.02},{"t":2019.0,"v":-0.02},{"t":2019.18,"v":0.01},{"t":2019.36,"v":0.0},{"t":2019.54,"v":-0.02},
{"t":2018.55,"v":-0.26},{"t":2018.73,"v":-0.23},{"t":2018.91,"v":-0.27},{"t":2019.09,"v":-0.24},{"t":2019.27,"v":-0.26},{"t":2019.45,"v":-0.23},
{"t":2018.64,"v":-0.49},{"t":2018.82,"v":-0.52},{"t":2019.0,"v":-0.48},{"t":2019.18,"v":-0.51},{"t":2019.36,"v":-0.5},{"t":2019.54,"v":-0.48},
{"t":2018.55,"v":-0.74},{"t":2018.73,"v":-0.77},{"t":2018.91,"v":-0.73},{"t":2019.09,"v":-0.76},{"t":2019.27,"v":-0.74},{"t":2019.45,"v":-0.77},
{"t":2018.64,"v":-1.01},{"t":2018.82,"v":-0.98},{"t":2019.0,"v":-1.02},{"t":2019.18,"v":-0.99},{"t":2019.36,"v":-1.0},{"t":2019.54,"v":-1.02},
{"t":2018.55,"v":0.49},{"t":2018.73,"v":0.52},{"t":2018.91,"v":0.48},{"t":2019.09,"v":0.51},{"t":2019.27,"v":0.47},{"t":2019.45,"v":0.52},
{"t":2018.55,"v":0.01},{"t":2018.73,"v":-0.02},{"t":2018.91,"v":0.02},{"t":2019.09,"v":-0.01},{"t":2019.27,"v":0.03},{"t":2019.45,"v":-0.02},
{"t":2018.55,"v":-0.51},{"t":2018.73,"v":-0.48},{"t":2018.91,"v":-0.52},{"t":2019.09,"v":-0.49},{"t":2019.27,"v":-0.53},{"t":2019.45,"v":-0.48},
{"t":2018.55,"v":-0.99},{"t":2018.73,"v":-1.02},{"t":2018.91,"v":-0.98},{"t":2019.09,"v":-1.01},{"t":2019.27,"v":-0.97},{"t":2019.45,"v":-1.02},
{"t":2018.64,"v":0.76},{"t":2018.82,"v":0.73},{"t":2019.0,"v":0.77},{"t":2019.18,"v":0.74},{"t":2019.36,"v":0.78},{"t":2019.54,"v":0.73},
{"t":2018.64,"v":0.24},{"t":2018.82,"v":0.27},{"t":2019.0,"v":0.23},{"t":2019.18,"v":0.26},{"t":2019.36,"v":0.22},{"t":2019.54,"v":0.27},
{"t":2018.64,"v":-0.26},{"t":2018.82,"v":-0.23},{"t":2019.0,"v":-0.27},{"t":2019.18,"v":-0.24},{"t":2019.36,"v":-0.28},{"t":2019.54,"v":-0.23},
{"t":2018.64,"v":-0.74},{"t":2018.82,"v":-0.77},{"t":2019.0,"v":-0.73},{"t":2019.18,"v":-0.76},{"t":2019.36,"v":-0.72},{"t":2019.54,"v":-0.77},
{"t":2019.12,"v":0.98},{"t":2019.3,"v":1.0},{"t":2019.48,"v":0.95},{"t":2019.15,"v":-1.25},{"t":2019.33,"v":-1.3},{"t":2019.5,"v":-1.2},{"t":2018.6,"v":1.4},{"t":2018.85,"v":1.62},{"t":2018.95,"v":1.5},{"t":2019.3,"v":1.2},{"t":2019.6,"v":1.17},{"t":2018.62,"v":-1.35},{"t":2018.95,"v":-1.4},{"t":2019.1,"v":-1.5},{"t":2019.2,"v":-1.78},{"t":2019.45,"v":-1.45},{"t":2019.58,"v":0.3},{"t":2019.58,"v":-0.3},
{"t":2019.88,"v":1.1},{"t":2020.05,"v":1.12},{"t":2020.22,"v":1.08},{"t":2020.39,"v":1.11},{"t":2020.56,"v":1.09},
{"t":2019.96,"v":0.86},{"t":2020.13,"v":0.83},{"t":2020.3,"v":0.87},{"t":2020.47,"v":0.84},
{"t":2019.88,"v":0.59},{"t":2020.05,"v":0.62},{"t":2020.22,"v":0.58},{"t":2020.39,"v":0.61},{"t":2020.56,"v":0.6},
{"t":2019.96,"v":0.36},{"t":2020.13,"v":0.33},{"t":2020.3,"v":0.37},{"t":2020.47,"v":0.34},
{"t":2019.88,"v":0.09},{"t":2020.05,"v":0.12},{"t":2020.22,"v":0.08},{"t":2020.39,"v":0.11},{"t":2020.56,"v":0.1},
{"t":2019.96,"v":-0.14},{"t":2020.13,"v":-0.17},{"t":2020.3,"v":-0.13},{"t":2020.47,"v":-0.16},
{"t":2019.88,"v":-0.41},{"t":2020.05,"v":-0.38},{"t":2020.22,"v":-0.42},{"t":2020.39,"v":-0.39},{"t":2020.56,"v":-0.4},
{"t":2019.96,"v":-0.64},{"t":2020.13,"v":-0.67},{"t":2020.3,"v":-0.63},{"t":2020.47,"v":-0.66},
{"t":2019.88,"v":-0.91},{"t":2020.05,"v":-0.88},{"t":2020.22,"v":-0.92},{"t":2020.39,"v":-0.89},{"t":2020.56,"v":-0.9},
{"t":2019.96,"v":-1.14},{"t":2020.13,"v":-1.17},{"t":2020.3,"v":-1.13},{"t":2020.47,"v":-1.16},
{"t":2019.88,"v":0.84},{"t":2020.05,"v":0.87},{"t":2020.22,"v":0.83},{"t":2020.39,"v":0.86},{"t":2020.56,"v":0.82},
{"t":2019.88,"v":0.36},{"t":2020.05,"v":0.33},{"t":2020.22,"v":0.37},{"t":2020.39,"v":0.34},{"t":2020.56,"v":0.38},
{"t":2019.88,"v":-0.16},{"t":2020.05,"v":-0.13},{"t":2020.22,"v":-0.17},{"t":2020.39,"v":-0.14},{"t":2020.56,"v":-0.18},
{"t":2019.88,"v":-0.64},{"t":2020.05,"v":-0.67},{"t":2020.22,"v":-0.63},{"t":2020.39,"v":-0.66},{"t":2020.56,"v":-0.62},
{"t":2019.88,"v":-1.16},{"t":2020.05,"v":-1.13},{"t":2020.22,"v":-1.17},{"t":2020.39,"v":-1.14},{"t":2020.56,"v":-1.18},
{"t":2019.96,"v":1.11},{"t":2020.13,"v":1.08},{"t":2020.3,"v":1.12},{"t":2020.47,"v":1.09},
{"t":2019.96,"v":0.59},{"t":2020.13,"v":0.62},{"t":2020.3,"v":0.58},{"t":2020.47,"v":0.61},
{"t":2019.96,"v":0.11},{"t":2020.13,"v":0.08},{"t":2020.3,"v":0.12},{"t":2020.47,"v":0.09},
{"t":2019.96,"v":-0.39},{"t":2020.13,"v":-0.42},{"t":2020.3,"v":-0.38},{"t":2020.47,"v":-0.41},
{"t":2019.96,"v":-0.89},{"t":2020.13,"v":-0.92},{"t":2020.3,"v":-0.88},{"t":2020.47,"v":-0.91},
{"t":2020.4,"v":1.49},{"t":2019.9,"v":1.35},{"t":2020.2,"v":-1.45},{"t":2020.45,"v":-1.4},{"t":2019.95,"v":-1.3},{"t":2020.1,"v":-1.35},{"t":2020.3,"v":1.3},{"t":2019.84,"v":0.5},{"t":2019.84,"v":-0.3},
{"t":2020.76,"v":0.5},{"t":2020.8,"v":0.1},{"t":2020.78,"v":-0.3},{"t":2020.84,"v":0.7},{"t":2020.88,"v":0.3},{"t":2020.86,"v":-0.1},{"t":2020.9,"v":-0.5},{"t":2020.94,"v":0.9},{"t":2020.98,"v":0.5},{"t":2021.0,"v":0.1},{"t":2021.02,"v":-0.25},{"t":2021.06,"v":1.1},{"t":2021.1,"v":0.7},{"t":2021.12,"v":0.3},{"t":2021.14,"v":-0.1},{"t":2021.18,"v":0.9},{"t":2021.2,"v":0.5},{"t":2021.22,"v":0.15},{"t":2021.26,"v":0.75},{"t":2021.28,"v":0.35},{"t":2021.24,"v":-0.2},{"t":2020.96,"v":-0.65},{"t":2021.08,"v":-0.45},{"t":2020.82,"v":0.95},{"t":2021.16,"v":1.2}]
},
"vconcat":[
{"width":697,"height":191,
 "resolve":{"axis":{"x":"independent","y":"independent"}},
 "layer":[
  {"data":{"name":"box"},"mark":{"type":"rect","color":"#e6e6e6"},
   "encoding":{"x":{"field":"x0","type":"quantitative","scale":{"domain":[2005.54,2021.35],"nice":false,"zero":false},"axis":{"orient":"top","values":[2010,2015,2020],"format":"d","tickSize":-12,"labelPadding":22,"title":null}},
    "x2":{"field":"x1"},
    "y":{"field":"y0","type":"quantitative","scale":{"domain":[6.45,28.32],"nice":false,"zero":false},"axis":{"orient":"left","values":[10,15,20,25],"tickSize":-12,"labelPadding":25,"title":"distance [au]","titlePadding":12}},
    "y2":{"field":"y1"}}},
  {"data":{"name":"grey"},"mark":{"type":"point","filled":true,"size":130,"color":"#e6e6e6","opacity":1},
   "encoding":{"x":{"field":"t","type":"quantitative","scale":{"domain":[2005.54,2021.35],"nice":false,"zero":false},"axis":{"orient":"top","values":[2006,2007,2008,2009,2011,2012,2013,2014,2016,2017,2018,2019,2021],"tickSize":-7,"labels":false,"title":null}},
    "y":{"field":"v","type":"quantitative","scale":{"domain":[6.45,28.32],"nice":false,"zero":false},"axis":{"orient":"left","values":[7,8,9,11,12,13,14,16,17,18,19,21,22,23,24,26,27,28],"tickSize":-7,"labels":false,"title":null}}}},
  {"data":{"name":"green"},"mark":{"type":"point","filled":true,"size":50,"color":"#00ff00","opacity":1},
   "encoding":{"x":{"field":"t","type":"quantitative","scale":{"domain":[2005.54,2021.35],"nice":false,"zero":false},"axis":{"orient":"bottom","values":[2010,2015,2020],"tickSize":-12,"labels":false,"title":null}},
    "y":{"field":"v","type":"quantitative","scale":{"domain":[6.45,28.32],"nice":false,"zero":false},"axis":{"orient":"right","values":[10,15,20,25],"tickSize":-12,"labels":false,"title":null}}}},
  {"data":{"name":"red"},"mark":{"type":"point","filled":true,"size":50,"color":"#ff0000","opacity":1},
   "encoding":{"x":{"field":"t","type":"quantitative","scale":{"domain":[2005.54,2021.35],"nice":false,"zero":false},"axis":{"orient":"bottom","values":[2006,2007,2008,2009,2011,2012,2013,2014,2016,2017,2018,2019,2021],"tickSize":-7,"labels":false,"title":null}},
    "y":{"field":"v","type":"quantitative","scale":{"domain":[6.45,28.32],"nice":false,"zero":false},"axis":{"orient":"right","values":[7,8,9,11,12,13,14,16,17,18,19,21,22,23,24,26,27,28],"tickSize":-7,"labels":false,"title":null}}}},
  {"data":{"name":"hline1"},"mark":{"type":"rule","color":"#333333","strokeWidth":1.5,"strokeDash":[2,4]},
   "encoding":{"y":{"field":"v","type":"quantitative","scale":{"domain":[6.45,28.32],"nice":false,"zero":false},"axis":null}}},
  {"data":{"name":"vline"},"mark":{"type":"rule","color":"#333333","strokeWidth":1.5,"strokeDash":[2,4]},
   "encoding":{"x":{"field":"t","type":"quantitative","scale":{"domain":[2005.54,2021.35],"nice":false,"zero":false},"axis":null}}},
  {"data":{"name":"boxtext"},"mark":{"type":"text","font":"Liberation Mono","fontSize":18,"align":"left","baseline":"middle","color":"black"},
   "encoding":{"x":{"field":"t","type":"quantitative","scale":{"domain":[2005.54,2021.35],"nice":false,"zero":false},"axis":null},
    "y":{"field":"v","type":"quantitative","scale":{"domain":[6.45,28.32],"nice":false,"zero":false},"axis":null},"text":{"field":"s"}}},
  {"data":{"name":"ann1"},"mark":{"type":"text","font":"Liberation Mono","fontSize":18.5,"align":"left","baseline":"middle","color":"black"},
   "encoding":{"x":{"field":"t","type":"quantitative","scale":{"domain":[2005.54,2021.35],"nice":false,"zero":false},"axis":null},
    "y":{"field":"v","type":"quantitative","scale":{"domain":[6.45,28.32],"nice":false,"zero":false},"axis":null},"text":{"field":"s"}}}
 ]},
{"vconcat":[
 {"width":697,"height":186,
  "resolve":{"axis":{"x":"independent","y":"independent"}},
  "layer":[
   {"data":{"name":"band2"},"mark":{"type":"rect","color":"#e6e6e6"},
    "encoding":{"x":{"field":"x0","type":"quantitative","scale":{"domain":[2005.54,2021.35],"nice":false,"zero":false},"axis":null},"x2":{"field":"x1"},
     "y":{"field":"lo","type":"quantitative","scale":{"domain":[-3.03,3.0],"nice":false,"zero":false},"axis":null},"y2":{"field":"hi"}}},
   {"data":{"name":"mm"},"mark":{"type":"point","filled":true,"size":50,"color":"#ff00ff","opacity":1},
    "encoding":{"x":{"field":"t","type":"quantitative","scale":{"domain":[2005.54,2021.35],"nice":false,"zero":false},"axis":{"orient":"top","values":[2010,2015,2020],"format":"d","tickSize":-12,"labelPadding":22,"title":null}},
     "y":{"field":"v","type":"quantitative","scale":{"domain":[-3.03,3.0],"nice":false,"zero":false},"axis":{"orient":"left","values":[-2,-1,0,1,2],"tickSize":-12,"labelPadding":25,"labelExpr":"datum.value % 2 == 0 ? datum.label : ''","title":"O−C [arcsec]","titlePadding":10}}}},
   {"data":{"name":"mb"},"mark":{"type":"point","filled":false,"size":60,"strokeWidth":1.3,"color":"#0000ff","opacity":1},
    "encoding":{"x":{"field":"t","type":"quantitative","scale":{"domain":[2005.54,2021.35],"nice":false,"zero":false},"axis":{"orient":"top","values":[2006,2007,2008,2009,2011,2012,2013,2014,2016,2017,2018,2019,2021],"tickSize":-7,"labels":false,"title":null}},
     "y":{"field":"v","type":"quantitative","scale":{"domain":[-3.03,3.0],"nice":false,"zero":false},"axis":{"orient":"left","values":[-2.5,-1.5,-0.5,0.5,1.5,2.5],"tickSize":-7,"labels":false,"title":null}}}},
   {"data":{"name":"zero"},"mark":{"type":"rule","color":"#333333","strokeWidth":1.5,"strokeDash":[2,4]},
    "encoding":{"x":{"field":"x0","type":"quantitative","scale":{"domain":[2005.54,2021.35],"nice":false,"zero":false},"axis":{"orient":"bottom","values":[2006,2007,2008,2009,2011,2012,2013,2014,2016,2017,2018,2019,2021],"tickSize":-7,"labels":false,"title":null}},"x2":{"field":"x1"},
     "y":{"field":"v","type":"quantitative","scale":{"domain":[-3.03,3.0],"nice":false,"zero":false},"axis":{"orient":"right","values":[-2.5,-1.5,-0.5,0.5,1.5,2.5],"tickSize":-7,"labels":false,"title":null}}}},
   {"data":{"name":"vline"},"mark":{"type":"rule","color":"#333333","strokeWidth":1.5,"strokeDash":[2,4]},
    "encoding":{"x":{"field":"t","type":"quantitative","scale":{"domain":[2005.54,2021.35],"nice":false,"zero":false},"axis":null}}},
   {"data":{"name":"ann2"},"mark":{"type":"text","font":"Liberation Mono","fontSize":18.5,"align":"right","baseline":"middle","color":"black"},
    "encoding":{"x":{"field":"t","type":"quantitative","scale":{"domain":[2005.54,2021.35],"nice":false,"zero":false},"axis":{"orient":"bottom","values":[2010,2015,2020],"format":"d","tickSize":-12,"labelPadding":21,"title":null}},
     "y":{"field":"v","type":"quantitative","scale":{"domain":[-3.03,3.0],"nice":false,"zero":false},"axis":{"orient":"right","values":[-2,-1,0,1,2],"tickSize":-12,"labels":false,"title":null}},"text":{"field":"s"}}}
  ]},
 {"width":697,"height":185,
  "resolve":{"axis":{"x":"independent","y":"independent"}},
  "layer":[
   {"data":{"name":"band3"},"mark":{"type":"rect","color":"#e6e6e6"},
    "encoding":{"x":{"field":"x0","type":"quantitative","scale":{"domain":[2005.54,2021.35],"nice":false,"zero":false},"axis":null},"x2":{"field":"x1"},
     "y":{"field":"lo","type":"quantitative","scale":{"domain":[-3.0,3.0],"nice":false,"zero":false},"axis":null},"y2":{"field":"hi"}}},
   {"data":{"name":"bm"},"mark":{"type":"point","filled":true,"size":50,"color":"#ff00ff","opacity":1},
    "encoding":{"x":{"field":"t","type":"quantitative","scale":{"domain":[2005.54,2021.35],"nice":false,"zero":false},"axis":{"orient":"top","values":[2010,2015,2020],"format":"d","tickSize":-12,"labelPadding":22,"title":null}},
     "y":{"field":"v","type":"quantitative","scale":{"domain":[-3.0,3.0],"nice":false,"zero":false},"axis":{"orient":"left","values":[-2,-1,0,1,2],"tickSize":-12,"labelPadding":25,"labelExpr":"datum.value % 2 == 0 ? datum.label : ''","title":"O−C [arcsec]","titlePadding":10}}}},
   {"data":{"name":"bb"},"mark":{"type":"point","filled":false,"size":60,"strokeWidth":1.3,"color":"#0000ff","opacity":1},
    "encoding":{"x":{"field":"t","type":"quantitative","scale":{"domain":[2005.54,2021.35],"nice":false,"zero":false},"axis":{"orient":"top","values":[2006,2007,2008,2009,2011,2012,2013,2014,2016,2017,2018,2019,2021],"tickSize":-7,"labels":false,"title":null}},
     "y":{"field":"v","type":"quantitative","scale":{"domain":[-3.0,3.0],"nice":false,"zero":false},"axis":{"orient":"left","values":[-2.5,-1.5,-0.5,0.5,1.5,2.5],"tickSize":-7,"labels":false,"title":null}}}},
   {"data":{"name":"zero"},"mark":{"type":"rule","color":"#333333","strokeWidth":1.5,"strokeDash":[2,4]},
    "encoding":{"x":{"field":"x0","type":"quantitative","scale":{"domain":[2005.54,2021.35],"nice":false,"zero":false},"axis":{"orient":"bottom","values":[2006,2007,2008,2009,2011,2012,2013,2014,2016,2017,2018,2019,2021],"tickSize":-7,"labels":false,"title":null}},"x2":{"field":"x1"},
     "y":{"field":"v","type":"quantitative","scale":{"domain":[-3.0,3.0],"nice":false,"zero":false},"axis":{"orient":"right","values":[-2.5,-1.5,-0.5,0.5,1.5,2.5],"tickSize":-7,"labels":false,"title":null}}}},
   {"data":{"name":"vline"},"mark":{"type":"rule","color":"#333333","strokeWidth":1.5,"strokeDash":[2,4]},
    "encoding":{"x":{"field":"t","type":"quantitative","scale":{"domain":[2005.54,2021.35],"nice":false,"zero":false},"axis":null}}},
   {"data":{"name":"ann3"},"mark":{"type":"text","font":"Liberation Mono","fontSize":18.5,"align":"right","baseline":"middle","color":"black"},
    "encoding":{"x":{"field":"t","type":"quantitative","scale":{"domain":[2005.54,2021.35],"nice":false,"zero":false},"axis":{"orient":"bottom","values":[2010,2015,2020],"format":"d","tickSize":-12,"labelPadding":21,"title":"D\u2002a\u2002t\u2002e\u2002[yr]","titlePadding":8}},
     "y":{"field":"v","type":"quantitative","scale":{"domain":[-3.0,3.0],"nice":false,"zero":false},"axis":{"orient":"right","values":[-2,-1,0,1,2],"tickSize":-12,"labels":false,"title":null}},"text":{"field":"s"}}}
  ]}
 ],"spacing":68,"bounds":"flush"}
],
"spacing":62,
"bounds":"flush"
}
